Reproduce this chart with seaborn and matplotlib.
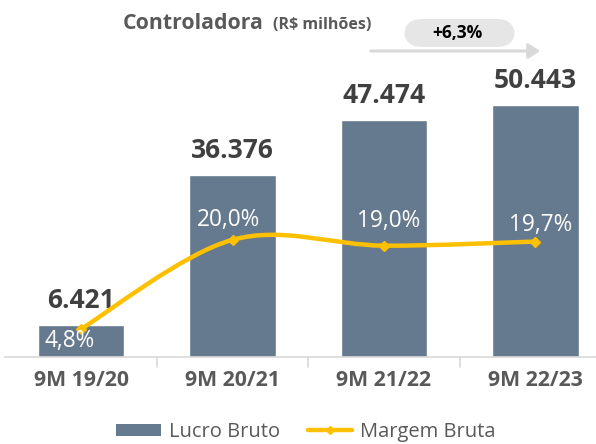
import numpy as np
import pandas as pd
import matplotlib
matplotlib.use("Agg")
import matplotlib.pyplot as plt
import seaborn as sns
from matplotlib.path import Path
from matplotlib.patches import PathPatch, Patch, FancyBboxPatch, FancyArrowPatch
from matplotlib.lines import Line2D

# Data
periods = ["9M 19/20", "9M 20/21", "9M 21/22", "9M 22/23"]
lucro_bruto = [6421, 36376, 47474, 50443]          # R$ milhões
margem_bruta = [4.8, 20.0, 19.0, 19.7]             # %
lucro_labels = ["6.421", "36.376", "47.474", "50.443"]
margem_labels = ["4,8%", "20,0%", "19,0%", "19,7%"]
growth_label = "+6,3%"

BAR = "#667a8f"
YELLOW = "#ffc000"
GRAY = "#595959"
DARK = "#404040"

sns.set_theme(style="white")
plt.rcParams["font.family"] = ["Open Sans", "DejaVu Sans"]

df = pd.DataFrame({"periodo": periods, "lucro": lucro_bruto, "margem": margem_bruta})

fig = plt.figure(figsize=(5.96, 4.44), dpi=100)
ax = fig.add_axes([5.4 / 596, 87 / 444, 590.6 / 596, 327 / 444])

sns.barplot(data=df, x="periodo", y="lucro", color=BAR, width=0.57,
            saturation=1, ax=ax)
ax.set_xlim(-0.5, 3.4)
ax.set_ylim(0, 65400)
ax.set_xlabel("")
ax.set_ylabel("")
ax.set_yticks([])
for s in ["top", "right", "left"]:
    ax.spines[s].set_visible(False)
ax.spines["bottom"].set_color("#d9d9d9")
ax.spines["bottom"].set_linewidth(1.2)
ax.tick_params(axis="x", length=0, pad=9, labelsize=15.3, labelcolor=GRAY)
for t in ax.get_xticklabels():
    t.set_fontweight("bold")
# category separator ticks
for b in [0.5, 1.5, 2.5]:
    ax.plot([b, b], [0, -0.03], transform=ax.get_xaxis_transform(),
            color="#d9d9d9", lw=1.2, clip_on=False)

for i, (v, lab) in enumerate(zip(lucro_bruto, lucro_labels)):
    ax.annotate(lab, (i, v), xytext=(0, 17.5), textcoords="offset points",
                ha="center", va="center", fontsize=19, fontweight="bold",
                color=DARK)

# secondary axis for margin
ax2 = ax.twinx()
ax2.set_ylim(0, 55.8)
ax2.set_yticks([])
for s in ax2.spines.values():
    s.set_visible(False)

# smoothed line (Catmull-Rom style bezier, like Excel's smoothed line)
xs = np.arange(len(margem_bruta), dtype=float)
pts = np.column_stack([xs, margem_bruta])
ext = np.vstack([pts[0], pts, pts[-1]])
verts = [tuple(pts[0])]
codes = [Path.MOVETO]
for k in range(1, len(ext) - 2):
    p0, p1, p2, p3 = ext[k - 1], ext[k], ext[k + 1], ext[k + 2]
    c1 = p1 + (p2 - p0) / 6
    c2 = p2 - (p3 - p1) / 6
    verts += [tuple(c1), tuple(c2), tuple(p2)]
    codes += [Path.CURVE4] * 3
ax2.add_patch(PathPatch(Path(verts, codes), facecolor="none", edgecolor=YELLOW,
                        lw=3.2, capstyle="round", zorder=3))
ax2.plot(xs, margem_bruta, ls="none", marker="D", ms=5, color=YELLOW, zorder=4)

offsets = [(-8, -9), (-3, 14), (3, 18), (4, 12)]
for i, (v, lab) in enumerate(zip(margem_bruta, margem_labels)):
    ax2.annotate(lab, (i, v), xytext=offsets[i], textcoords="offset points",
                 ha="center", va="center", fontsize=16.3, color="white", zorder=5)

# title
fig.text(123 / 596, 1 - 29 / 444, "Controladora", fontsize=15.3, fontweight="bold",
         color=GRAY, ha="left", va="baseline")
fig.text(273 / 596, 1 - 29 / 444, "(R$ milhões)", fontsize=11.5, fontweight="bold",
         color=GRAY, ha="left", va="baseline")

# growth arrow + badge
fig.patches.append(FancyArrowPatch(
    (368 / 596, 1 - 51 / 444), (543 / 596, 1 - 51 / 444), transform=fig.transFigure,
    arrowstyle="-|>,head_length=7,head_width=4.5", color="#d9d9d9", lw=2.2,
    mutation_scale=1))
fig.patches.append(FancyBboxPatch(
    (404 / 596, 1 - 47 / 444), 111 / 596, 28 / 444, transform=fig.transFigure,
    boxstyle="round,pad=0,rounding_size=0.03", facecolor="#e7e6e6",
    edgecolor="none", mutation_aspect=596 / 444))
fig.text(457 / 596, 1 - 33 / 444, growth_label, fontsize=12.5, fontweight="bold",
         color="black", ha="center", va="center")

# legend
handles = [Patch(facecolor=BAR, edgecolor="none"),
           Line2D([0], [0], color=YELLOW, lw=3.2, marker="D", ms=4)]
fig.legend(handles, ["Lucro Bruto", "Margem Bruta"], loc="center",
           bbox_to_anchor=(306 / 596, 1 - 432 / 444), ncol=2, frameon=False,
           fontsize=14.5, labelcolor=GRAY, handlelength=2.2, handleheight=0.6,
           columnspacing=1.4, handletextpad=0.4, borderaxespad=0)

fig.savefig("out.png", dpi=100)
